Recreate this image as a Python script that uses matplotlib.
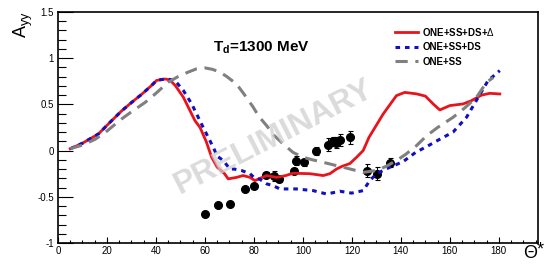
import matplotlib.pyplot as plt
from matplotlib.ticker import MultipleLocator

plt.rcParams['font.family'] = ['Liberation Sans', 'DejaVu Sans']
plt.rcParams['mathtext.fontset'] = 'custom'
plt.rcParams['mathtext.rm'] = 'Liberation Sans'
plt.rcParams['mathtext.it'] = 'Liberation Sans:italic'
plt.rcParams['mathtext.bf'] = 'Liberation Sans:bold'

# ONE+SS+DS+Delta
red_x = [5, 10, 16.5, 21, 26, 30, 34.2, 38, 40.3, 43.7, 45.7, 48, 51.2, 55.9, 58, 60.5,
         62.7, 65, 66.8, 68, 69.5, 72.9, 75.6, 78.4, 80.4, 82.5, 85.2, 89.3, 93, 96, 102.9,
         108.3, 111, 113.7, 116, 119.2, 122, 124.6, 127, 132.8, 138.2, 141.6, 146.4, 150,
         153.2, 155.9, 160, 165.4, 168.8, 172.9, 176.3, 180.4]
red_y = [0.02, 0.08, 0.18, 0.30, 0.43, 0.52, 0.61, 0.70, 0.76, 0.775, 0.765, 0.70, 0.577,
         0.325, 0.25, 0.10, -0.07, -0.18, -0.22, -0.25, -0.306, -0.29, -0.27, -0.29, -0.325,
         -0.30, -0.27, -0.29, -0.27, -0.245, -0.25, -0.27, -0.25, -0.2, -0.17, -0.14, -0.07,
         0.0, 0.144, 0.397, 0.595, 0.63, 0.614, 0.59, 0.505, 0.44, 0.487, 0.505, 0.54, 0.60,
         0.62, 0.613]

# ONE+SS+DS
blue_x = [5, 10, 16.5, 21, 26, 30, 34.2, 38, 40.3, 43.7, 45.7, 47.8, 51.2, 54.6, 59.3,
          63.4, 65, 67.5, 70.2, 72, 75, 78.4, 80, 82.4, 85.2, 87.9, 90.6, 93.3, 97.4, 104.2,
          109.7, 115.1, 119.9, 124.6, 127.3, 130.1, 135.5, 140.9, 146, 151, 155, 161.3,
          166.8, 171.6, 175.6, 180.4]
blue_y = [0.02, 0.08, 0.18, 0.30, 0.43, 0.52, 0.61, 0.70, 0.76, 0.775, 0.77, 0.757, 0.65,
          0.505, 0.25, 0.036, -0.06, -0.108, -0.2, -0.2, -0.216, -0.25, -0.29, -0.31, -0.36,
          -0.38, -0.415, -0.415, -0.415, -0.433, -0.47, -0.44, -0.46, -0.433, -0.325, -0.25,
          -0.18, -0.12, -0.02, 0.05, 0.11, 0.2, 0.36, 0.577, 0.757, 0.866]

# ONE+SS
grey_x = [5, 10, 15, 19, 26, 30, 35.5, 40, 45, 49, 53.2, 56.6, 60, 63, 66.1, 69, 72.9, 76,
          79.7, 82, 85.2, 88, 92, 96, 100.1, 104, 108.3, 116.4, 124.6, 130.1, 134, 138.2,
          142, 146.4, 150.5, 155, 161.3, 166, 170.9, 175, 177.7]
grey_y = [0.02, 0.06, 0.12, 0.19, 0.343, 0.42, 0.52, 0.62, 0.74, 0.80, 0.85, 0.885, 0.895,
          0.88, 0.85, 0.80, 0.72, 0.61, 0.47, 0.37, 0.27, 0.17, 0.07, -0.02, -0.072, -0.10,
          -0.127, -0.18, -0.235, -0.216, -0.17, -0.108, -0.04, 0.054, 0.16, 0.25, 0.36,
          0.46, 0.577, 0.74, 0.79]

# measured points
data_x = [60, 65.2, 70.1, 76.3, 80.1, 84.9, 88.4, 90.3, 96.4, 97.2, 100.3, 105.2, 110.1,
          112.1, 113.7, 115.1, 119.2, 126.3, 130.1, 135.6]
data_y = [-0.685, -0.59, -0.577, -0.415, -0.38, -0.26, -0.275, -0.305, -0.22, -0.108,
          -0.127, -0.005, 0.065, 0.1, 0.087, 0.115, 0.145, -0.216, -0.25, -0.13]
data_err = [0.0, 0.0, 0.0, 0.0, 0.0, 0.03, 0.05, 0.03, 0.03, 0.045, 0.04, 0.04, 0.07,
            0.05, 0.06, 0.07, 0.07, 0.072, 0.07, 0.05]

fig = plt.figure(figsize=(5.47, 2.64), dpi=100)
ax = fig.add_axes([58 / 547, 21 / 264, 480 / 547, 231 / 264])

ax.errorbar(data_x, data_y, yerr=data_err, fmt='o', color='black', ms=5.5,
            elinewidth=0.8, capsize=1.8, capthick=0.8, zorder=2)
ax.plot(red_x, red_y, color='#e8141c', lw=2.0, label='ONE+SS+DS+$\\Delta$', zorder=3)
ax.plot(blue_x, blue_y, color='#1010c0', lw=2.2, dashes=(1.5, 1.6),
        label='ONE+SS+DS', zorder=3)
ax.plot(grey_x, grey_y, color='#808080', lw=2.2, dashes=(4, 2.5), label='ONE+SS', zorder=3)

ax.text(88, 0.15, 'PRELIMINARY', rotation=27, fontsize=23, fontweight='bold',
        color='#cfcfcf', alpha=0.75, ha='center', va='center', zorder=4)

ax.text(63.3, 1.115, r'T$_\mathbf{d}$=1300 MeV', fontsize=11, fontweight='bold',
        va='center', ha='left')

ax.set_xlim(0, 196)
ax.set_ylim(-1, 1.5)
ax.xaxis.set_major_locator(MultipleLocator(20))
ax.xaxis.set_minor_locator(MultipleLocator(5))
ax.yaxis.set_major_locator(MultipleLocator(0.5))
ax.yaxis.set_minor_locator(MultipleLocator(0.1))
ax.set_yticks([-1, -0.5, 0, 0.5, 1, 1.5])
ax.set_yticklabels(['-1', '-0.5', '0', '0.5', '1', '1.5'])
ax.tick_params(axis='both', which='both', direction='in', labelsize=7, width=0.8)
ax.tick_params(axis='y', which='major', length=11, pad=3)
ax.tick_params(axis='y', which='minor', length=5.5)
ax.tick_params(axis='x', which='major', length=4.5, pad=2)
ax.tick_params(axis='x', which='minor', length=2.2)
for s in ax.spines.values():
    s.set_linewidth(1.2)

fig.text(23 / 547, 1 - 25 / 264, r'A$_{\mathrm{yy}}$', rotation=90, fontsize=13,
         ha='center', va='center')
fig.text(530 / 547, 1 - 254 / 264, 'Θ', fontsize=13, ha='center', va='center')
fig.text(540 / 547, 1 - 250 / 264, '*', fontsize=13, ha='center', va='center')

leg = ax.legend(loc='upper left', bbox_to_anchor=(0.702, 0.94), frameon=False,
                prop={'size': 7, 'weight': 'bold'}, handlelength=2.4,
                handletextpad=0.4, labelspacing=0.45, borderpad=0, borderaxespad=0)

fig.savefig('out.png', dpi=100)
